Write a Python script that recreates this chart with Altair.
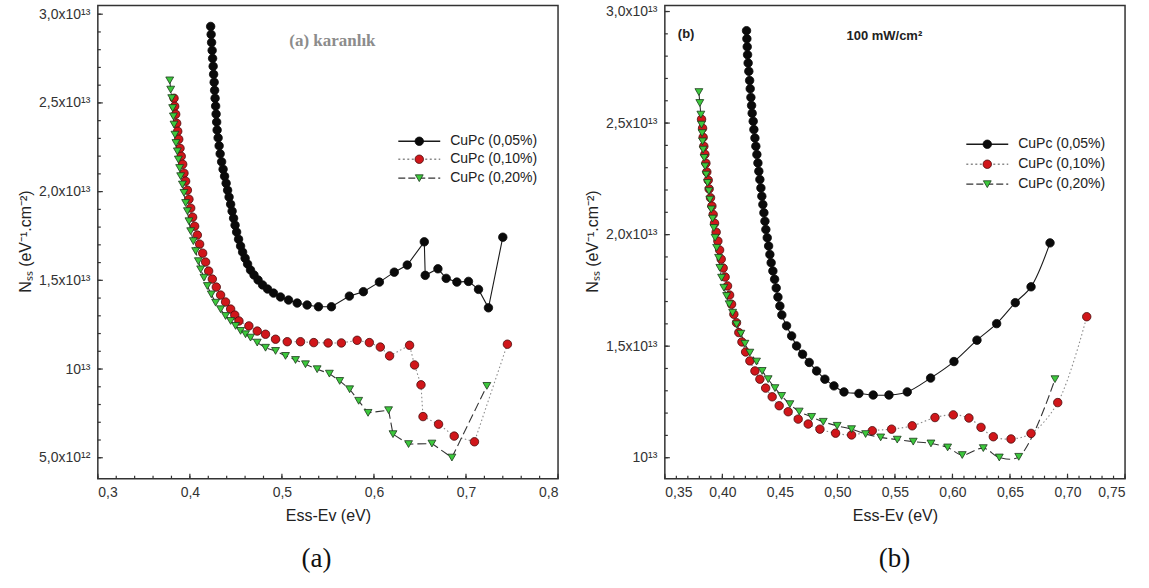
import altair as alt
import pandas as pd

SERIES = ["CuPc (0,05%)", "CuPc (0,10%)", "CuPc (0,20%)"]

# ---- Panel (a): dark (karanlık). Nss in units of 1e13 eV^-1 cm^-2 ----
A_X_005 = [0.4226, 0.4231, 0.4236, 0.4242, 0.4247, 0.4253, 0.4258, 0.4264, 0.4269, 0.4274,
           0.4280, 0.4285, 0.4291, 0.4296, 0.4307, 0.4318, 0.4329, 0.4345, 0.4361, 0.4377,
           0.4394, 0.4410, 0.4426, 0.4443, 0.4459, 0.4475, 0.4491, 0.4508, 0.4529, 0.4551,
           0.4573, 0.4600, 0.4627, 0.4659, 0.4697, 0.4741, 0.4790, 0.4844, 0.4909, 0.4985,
           0.5072, 0.5166, 0.5274, 0.5397, 0.5538, 0.5733, 0.5885, 0.6059, 0.6221, 0.6362,
           0.6547, 0.6557, 0.6695, 0.6785, 0.6901, 0.7027, 0.7136, 0.7244, 0.7400]
A_Y_005 = [2.931, 2.886, 2.841, 2.796, 2.751, 2.706, 2.661, 2.616, 2.571, 2.526,
           2.482, 2.437, 2.392, 2.347, 2.303, 2.258, 2.213, 2.168, 2.126, 2.087,
           2.047, 2.008, 1.969, 1.929, 1.890, 1.850, 1.811, 1.772, 1.732, 1.693,
           1.659, 1.625, 1.592, 1.558, 1.530, 1.502, 1.474, 1.451, 1.428, 1.406,
           1.389, 1.372, 1.361, 1.351, 1.351, 1.411, 1.436, 1.490, 1.546, 1.586,
           1.717, 1.528, 1.565, 1.511, 1.490, 1.494, 1.449, 1.345, 1.743]

A_X_010 = [0.3828, 0.3835, 0.3846, 0.3857, 0.3868, 0.3879, 0.3893, 0.3906, 0.3922, 0.3936,
           0.3954, 0.3973, 0.3990, 0.4009, 0.4030, 0.4052, 0.4081, 0.4106, 0.4139, 0.4171,
           0.4204, 0.4244, 0.4287, 0.4334, 0.4388, 0.4443, 0.4488, 0.4533, 0.4641, 0.4732,
           0.4822, 0.4931, 0.5058, 0.5202, 0.5346, 0.5502, 0.5646, 0.5817, 0.5950, 0.6069,
           0.6170, 0.6387, 0.6441, 0.6511, 0.6533, 0.6702, 0.6872, 0.7092, 0.7450]
A_Y_010 = [2.526, 2.481, 2.436, 2.385, 2.340, 2.295, 2.244, 2.199, 2.154, 2.104,
           2.059, 2.008, 1.957, 1.907, 1.856, 1.805, 1.755, 1.704, 1.653, 1.603,
           1.552, 1.507, 1.462, 1.417, 1.378, 1.338, 1.304, 1.271, 1.243, 1.214,
           1.196, 1.168, 1.154, 1.154, 1.149, 1.147, 1.147, 1.162, 1.149, 1.124,
           1.074, 1.134, 1.023, 0.911, 0.732, 0.689, 0.622, 0.590, 1.140]

A_X_020 = [0.3781, 0.3792, 0.3803, 0.3813, 0.3821, 0.3828, 0.3838, 0.3849, 0.3864, 0.3875,
           0.3889, 0.3900, 0.3919, 0.3936, 0.3954, 0.3973, 0.3990, 0.4009, 0.4038, 0.4063,
           0.4092, 0.4117, 0.4153, 0.4190, 0.4233, 0.4280, 0.4334, 0.4388, 0.4443, 0.4497,
           0.4551, 0.4605, 0.4659, 0.4732, 0.4822, 0.4931, 0.5039, 0.5148, 0.5256, 0.5383,
           0.5516, 0.5628, 0.5736, 0.5834, 0.5936, 0.6159, 0.6207, 0.6376, 0.6630, 0.6847,
           0.7227]
A_Y_020 = [2.627, 2.575, 2.527, 2.471, 2.424, 2.378, 2.321, 2.274, 2.227, 2.181,
           2.133, 2.087, 2.040, 1.993, 1.936, 1.890, 1.833, 1.777, 1.721, 1.665,
           1.608, 1.562, 1.515, 1.468, 1.421, 1.374, 1.337, 1.299, 1.271, 1.243,
           1.215, 1.196, 1.177, 1.149, 1.120, 1.102, 1.074, 1.051, 1.027, 0.999,
           0.974, 0.933, 0.886, 0.821, 0.753, 0.768, 0.633, 0.577, 0.580, 0.501,
           0.905]

# ---- Panel (b): 100 mW/cm2 illumination ----
B_X_005 = [0.4210, 0.4213, 0.4216, 0.4219, 0.4224, 0.4230, 0.4237, 0.4242, 0.4248, 0.4254,
           0.4259, 0.4268, 0.4274, 0.4283, 0.4291, 0.4300, 0.4309, 0.4317, 0.4326, 0.4335,
           0.4343, 0.4352, 0.4361, 0.4370, 0.4378, 0.4390, 0.4402, 0.4413, 0.4424, 0.4439,
           0.4454, 0.4468, 0.4483, 0.4500, 0.4517, 0.4558, 0.4602, 0.4645, 0.4697, 0.4755,
           0.4819, 0.4891, 0.4970, 0.5057, 0.5187, 0.5311, 0.5448, 0.5607, 0.5810, 0.6013,
           0.6213, 0.6384, 0.6546, 0.6683, 0.6848]
B_Y_005 = [2.914, 2.878, 2.842, 2.806, 2.769, 2.732, 2.691, 2.654, 2.615, 2.579,
           2.544, 2.508, 2.471, 2.433, 2.396, 2.359, 2.321, 2.284, 2.247, 2.209,
           2.172, 2.135, 2.098, 2.060, 2.023, 1.986, 1.949, 1.911, 1.874, 1.837,
           1.800, 1.761, 1.720, 1.680, 1.640, 1.591, 1.546, 1.501, 1.464, 1.427,
           1.389, 1.352, 1.322, 1.295, 1.288, 1.281, 1.281, 1.295, 1.357, 1.431,
           1.527, 1.601, 1.695, 1.766, 1.963]

B_X_010 = [0.3819, 0.3828, 0.3833, 0.3839, 0.3848, 0.3857, 0.3865, 0.3877, 0.3885, 0.3897,
           0.3909, 0.3920, 0.3932, 0.3946, 0.3961, 0.3976, 0.3990, 0.4007, 0.4024, 0.4045,
           0.4063, 0.4080, 0.4100, 0.4123, 0.4143, 0.4170, 0.4202, 0.4239, 0.4283, 0.4326,
           0.4376, 0.4433, 0.4494, 0.4572, 0.4659, 0.4746, 0.4848, 0.4984, 0.5123, 0.5303,
           0.5471, 0.5650, 0.5848, 0.6007, 0.6143, 0.6248, 0.6355, 0.6509, 0.6683, 0.6915,
           0.7167]
B_Y_010 = [2.517, 2.477, 2.436, 2.396, 2.360, 2.320, 2.281, 2.244, 2.205, 2.165,
           2.128, 2.090, 2.051, 2.011, 1.971, 1.931, 1.890, 1.850, 1.810, 1.770,
           1.729, 1.688, 1.643, 1.605, 1.561, 1.519, 1.474, 1.434, 1.389, 1.352,
           1.312, 1.273, 1.233, 1.206, 1.173, 1.151, 1.128, 1.110, 1.102, 1.121,
           1.128, 1.143, 1.180, 1.192, 1.178, 1.136, 1.094, 1.084, 1.109, 1.247,
           1.632]

B_X_020 = [0.3796, 0.3804, 0.3813, 0.3819, 0.3824, 0.3828, 0.3833, 0.3842, 0.3850, 0.3859,
           0.3871, 0.3883, 0.3891, 0.3903, 0.3915, 0.3926, 0.3937, 0.3950, 0.3967, 0.3978,
           0.3993, 0.4013, 0.4037, 0.4059, 0.4089, 0.4123, 0.4161, 0.4196, 0.4239, 0.4297,
           0.4346, 0.4398, 0.4457, 0.4515, 0.4587, 0.4668, 0.4776, 0.4877, 0.4998, 0.5123,
           0.5245, 0.5376, 0.5520, 0.5659, 0.5813, 0.5958, 0.6085, 0.6268, 0.6407, 0.6576,
           0.6891]
B_Y_020 = [2.639, 2.590, 2.538, 2.493, 2.455, 2.418, 2.381, 2.344, 2.306, 2.269,
           2.232, 2.195, 2.157, 2.113, 2.072, 2.030, 1.986, 1.941, 1.896, 1.851,
           1.807, 1.762, 1.725, 1.688, 1.650, 1.598, 1.556, 1.511, 1.471, 1.431,
           1.389, 1.352, 1.312, 1.277, 1.240, 1.207, 1.183, 1.161, 1.143, 1.128,
           1.106, 1.091, 1.081, 1.072, 1.064, 1.046, 1.012, 1.043, 1.001, 1.004,
           1.352]

# Axis ticks (x in eV, y in 1e13 units)
A_X_MAJOR = [0.3, 0.4, 0.5, 0.6, 0.7, 0.8]
A_X_MINOR = [round(0.30 + 0.02 * k, 3) for k in range(26)]
A_Y_MAJOR = [0.5, 1.0, 1.5, 2.0, 2.5, 3.0]
A_Y_MINOR = [round(0.5 + 0.1 * k, 2) for k in range(26)]
B_X_MAJOR = [0.35, 0.40, 0.45, 0.50, 0.55, 0.60, 0.65, 0.70, 0.75]
B_X_MINOR = [round(0.35 + 0.01 * k, 3) for k in range(41)]
B_Y_MAJOR = [1.0, 1.5, 2.0, 2.5, 3.0]
B_Y_MINOR = [round(1.0 + 0.1 * k, 2) for k in range(21)]

W, H = 461, 474
GAP = 107
FRAME = "#333333"
FONT = "Liberation Sans"

STYLE = [
    dict(shape="circle", fill="#0a0a0a", stroke="#0a0a0a", line="#1a1a1a", dash=None, size=72),
    dict(shape="circle", fill="#d0161a", stroke="#4a0e0e", line="#8a8a8a", dash=[1.5, 2.5], size=72),
    dict(shape="triangle-down", fill="#3cc83c", stroke="#1d3a1d", line="#333333", dash=[9, 4], size=62),
]

Y_LABELS = ("datum.value == 1 ? '10¹³' : datum.value < 1 ? "
            "replace(format(datum.value * 10, '.1f'), '.', ',') + 'x10¹²' : "
            "replace(format(datum.value, '.1f'), '.', ',') + 'x10¹³'")


def spacer(x, x2, y):
    # white hairline that fixes the outer extent of the page
    return alt.Chart(pd.DataFrame({"s": [0]})).mark_rule(color="white", strokeWidth=0.2).encode(
        x=alt.value(x), x2=alt.value(x2), y=alt.value(y))


def panel(xs, ys, xdom, ydom, xmaj, xmin, ymaj, ymin, xfmt, interp,
          legend_x, legend_rows, notes, caption, extent):
    xsc = alt.Scale(domain=xdom, nice=False, zero=False)
    ysc = alt.Scale(domain=ydom, nice=False, zero=False)

    xaxis = alt.Axis(values=xmaj, labelExpr=f"replace(format(datum.value, '{xfmt}'), '.', ',')",
                     ticks=False, domain=False, grid=False, labelFont=FONT, labelFontSize=14,
                     labelColor="#333333", labelPadding=7, title="Ess-Ev (eV)", titleFont=FONT,
                     titleFontSize=16, titleFontWeight="normal", titleColor="#222222",
                     titleY=37, titleBaseline="middle")
    yaxis = alt.Axis(values=ymaj, labelExpr=Y_LABELS, ticks=False, domain=False, grid=False,
                     labelFont=FONT, labelFontSize=14, labelColor="#333333", labelPadding=8,
                     title="Nₛₛ (eV⁻¹.cm⁻²)", titleFont=FONT, titleFontSize=16,
                     titleFontWeight="normal", titleColor="#222222", titleX=-72, titleY=236,
                     titleAngle=270, titleAlign="center", titleBaseline="middle")

    def X(field):
        return alt.X(field, scale=xsc, axis=xaxis)

    def Y(field):
        return alt.Y(field, scale=ysc, axis=yaxis)

    lines, points = [], []
    for k, (sx, sy) in enumerate(zip(xs, ys)):
        st = STYLE[k]
        df = pd.DataFrame({"x": sx, "y": sy, "i": list(range(len(sx)))})
        lkw = dict(color=st["line"], strokeWidth=1.1, interpolate=interp)
        if st["dash"]:
            lkw["strokeDash"] = st["dash"]
        lines.append(alt.Chart(df).mark_line(**lkw).encode(
            x=X("x:Q"), y=Y("y:Q"), order="i:Q"))
        points.append(alt.Chart(df).mark_point(
            shape=st["shape"], filled=True, fill=st["fill"], stroke=st["stroke"],
            strokeWidth=0.8, size=st["size"], opacity=1).encode(x=X("x:Q"), y=Y("y:Q")))

    def xticks(vals, length):
        return alt.Chart(pd.DataFrame({"x": vals})).mark_rule(color=FRAME, strokeWidth=1.2).encode(
            x=X("x:Q"), y=alt.value(H), y2=alt.value(H - length))

    def yticks(vals, length):
        return alt.Chart(pd.DataFrame({"y": vals})).mark_rule(color=FRAME, strokeWidth=1.2).encode(
            y=Y("y:Q"), x=alt.value(0), x2=alt.value(length))

    ticks = [xticks(xmin, 3), xticks(xmaj, 5), yticks(ymin, 3), yticks(ymaj, 5)]

    # legend: line sample, marker and label for each series
    legend = []
    for k, name in enumerate(SERIES):
        st = STYLE[k]
        row = pd.DataFrame({"label": [name]})
        rkw = dict(color=st["line"], strokeWidth=1.3)
        if st["dash"]:
            rkw["strokeDash"] = [2, 2.5] if k == 1 else [7, 3]
        legend.append(alt.Chart(row).mark_rule(**rkw).encode(
            x=alt.value(legend_x), x2=alt.value(legend_x + 42), y=alt.value(legend_rows[k])))
        legend.append(alt.Chart(row).mark_point(
            shape=st["shape"], filled=True, fill=st["fill"], stroke=st["stroke"],
            strokeWidth=0.8, size=st["size"], opacity=1).encode(
            x=alt.value(legend_x + 21), y=alt.value(legend_rows[k])))
        legend.append(alt.Chart(row).mark_text(
            align="left", baseline="middle", font=FONT, fontSize=14, color="#222222").encode(
            x=alt.value(legend_x + 52), y=alt.value(legend_rows[k]), text="label:N"))

    texts = []
    for n in notes + [caption]:
        row = pd.DataFrame({"t": [n["text"]]})
        texts.append(alt.Chart(row).mark_text(
            align=n.get("align", "left"), baseline="middle", font=n["font"],
            fontSize=n["size"], fontWeight=n.get("weight", "normal"), color=n["color"]).encode(
            x=alt.value(n["x"]), y=alt.value(n["y"]), text="t:N"))

    return alt.layer(*lines, *ticks, *points, *legend, *texts,
                     *[spacer(*e) for e in extent]).properties(width=W, height=H)


panel_a = panel(
    [A_X_005, A_X_010, A_X_020], [A_Y_005, A_Y_010, A_Y_020],
    [0.3, 0.8], [0.382, 3.049], A_X_MAJOR, A_X_MINOR, A_Y_MAJOR, A_Y_MINOR, ".1f", "linear",
    301, [136, 154, 173],
    [dict(text="(a) karanlık", x=235, y=36, font="Liberation Serif", size=17, weight="bold",
          color="#8c8c8c", align="center")],
    dict(text="(a)", x=219, y=554, font="Liberation Serif", size=27, color="#111111", align="center"),
    [(-97, -96, H + 110)],
)

panel_b = panel(
    [B_X_005, B_X_010, B_X_020], [B_Y_005, B_Y_010, B_Y_020],
    [0.35, 0.75], [0.906, 3.027], B_X_MAJOR, B_X_MINOR, B_Y_MAJOR, B_Y_MINOR, ".2f", "catmull-rom",
    302, [139, 159, 179],
    [dict(text="(b)", x=13, y=29, font=FONT, size=13, weight="bold", color="#222222"),
     dict(text="100 mW/cm²", x=182, y=31, font=FONT, size=13, weight="bold", color="#222222")],
    dict(text="(b)", x=230, y=554, font="Liberation Serif", size=27, color="#111111", align="center"),
    [(W + 22, W + 23, -4)],
)

chart = alt.hconcat(panel_a, panel_b, spacing=GAP, bounds="flush").properties(
    padding=0,
    background="white",
).configure_view(stroke=FRAME, strokeWidth=1.5)

chart.save("out.html", embed_options={"renderer": "svg", "actions": False})
